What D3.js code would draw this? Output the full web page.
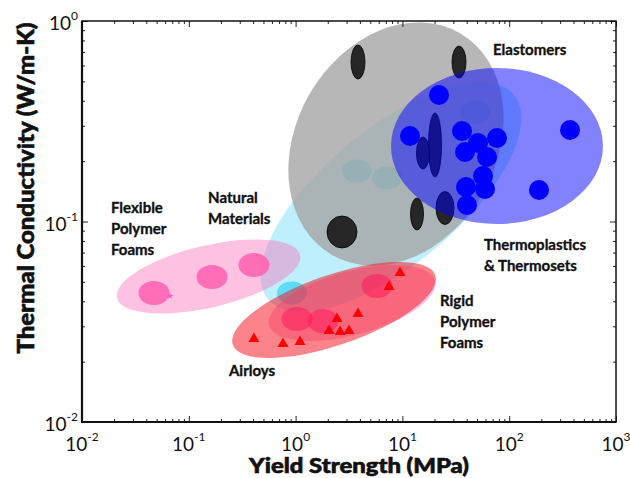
<!DOCTYPE html>
<html>
<head>
<meta charset="utf-8">
<script src="https://cdn.jsdelivr.net/npm/d3@7"></script>
<style>
  html, body { margin: 0; padding: 0; background: #fff; }
  svg { display: block; }
  text { font-family: Lato, "DejaVu Sans", sans-serif; fill: #111; }
</style>
</head>
<body>
<svg id="chart" width="630" height="478"></svg>
<script>
// ---- Property envelopes: ends of the major axis (strength MPa, conductivity W/m-K) and minor/major ratio
const regionNames = ["Natural Materials", "Elastomers", "Thermoplastics & Thermosets",
                     "Flexible Polymer Foams", "Rigid Polymer Foams", "Airloys"];
const regionStrength = [[0.5515, 110.9], [2.19, 34.6], [7.82, 755], [0.0213, 1.099], [0.5637, 20.2], [0.2582, 20.3]];
const regionConductivity = [[0.04097, 0.4285], [0.0681, 0.870], [0.2379, 0.2379], [0.04155, 0.0681], [0.03036, 0.05065], [0.02427, 0.0540]];
const regionRatio = [0.425, 0.78, 0.736, 0.33, 0.37, 0.327];

// ---- Individual materials
const naturalStrength = [0.925, 3.76, 7.17, 47.9];
const naturalConductivity = [0.0440, 0.1786, 0.1648, 0.3516];

// elastomers given as strength / conductivity ranges
const elastomerStrength = [[3.302, 4.465], [29.14, 39.4], [1.968, 3.757], [11.91, 15.76], [20.63, 30.41], [17.55, 23.23], [13.55, 17.94]];
const elastomerConductivity = [[0.5136, 0.759], [0.5196, 0.750], [0.0738, 0.1065], [0.0907, 0.1310], [0.0966, 0.1411], [0.1667, 0.3477], [0.1827, 0.2638]];

const thermoStrength = [22.01, 11.78, 36.15, 38.57, 51.05, 76.89, 61.96, 56.85, 59.35, 39.4, 40.26, 370.9, 190.1];
const thermoConductivity = [0.4274, 0.2669, 0.2827, 0.2221, 0.2463, 0.2609, 0.2098, 0.1686, 0.1452, 0.1486, 0.1209, 0.2860, 0.1436];

const flexFoamStrength = [0.0472, 0.165, 0.407];
const flexFoamConductivity = [0.0440, 0.0529, 0.0607];
const flexStarStrength = [0.0667];
const flexStarConductivity = [0.0425];

const rigidFoamStrength = [1.03, 1.806, 5.78];
const rigidFoamConductivity = [0.03264, 0.0319, 0.04769];

const airloyStrength = [0.407, 0.762, 1.10, 2.44, 3.84, 2.06, 2.61, 3.16, 7.49, 9.50];
const airloyConductivity = [0.02624, 0.02478, 0.02535, 0.03302, 0.03496, 0.02875, 0.02843, 0.02875, 0.04768, 0.05601];

// ---- Annotation text and anchor (data coordinates of first line)
const labelLines = [["Elastomers"], ["Thermoplastics", "& Thermosets"], ["Rigid", "Polymer", "Foams"],
                    ["Flexible", "Polymer", "Foams"], ["Natural", "Materials"], ["Airloys"]];
const labelStrength = [70.5, 58.1, 22.5, 0.01869, 0.1514, 0.2377];
const labelConductivity = [0.677, 0.0721, 0.0379, 0.1103, 0.1237, 0.01696];

// ---- Axis ticks
const xMajor = [1e-2, 1e-1, 1e0, 1e1, 1e2, 1e3];
const yMajor = [1e-2, 1e-1, 1e0];
const xExponents = ["-2", "-1", "0", "1", "2", "3"];
const yExponents = ["-2", "-1", "0"];

// ---- Layout
const svg = d3.select("#chart");
const L = 82, R = 616, T = 21, B = 422;
const x = d3.scaleLog().domain([1e-2, 1e3]).range([L, R]);
const y = d3.scaleLog().domain([1e-2, 1e0]).range([B, T]);

const regionStyle = {
  "Natural Materials":            { fill: "rgb(0,195,245)",   op: 0.26 },
  "Elastomers":                   { fill: "rgb(165,165,165)", op: 0.8 },
  "Thermoplastics & Thermosets":  { fill: "rgb(0,0,255)",     op: 0.49 },
  "Flexible Polymer Foams":       { fill: "rgb(250,110,185)", op: 0.42 },
  "Rigid Polymer Foams":          { fill: "rgb(250,110,185)", op: 0.42 },
  "Airloys":                      { fill: "rgb(245,20,30)",   op: 0.52 }
};

function regionGeom(i) {
  const x1 = x(regionStrength[i][0]), y1 = y(regionConductivity[i][0]);
  const x2 = x(regionStrength[i][1]), y2 = y(regionConductivity[i][1]);
  const rx = Math.hypot(x2 - x1, y2 - y1) / 2;
  return { cx: (x1 + x2) / 2, cy: (y1 + y2) / 2, rx, ry: rx * regionRatio[i],
           ang: Math.atan2(y2 - y1, x2 - x1) * 180 / Math.PI };
}

function drawRegion(name) {
  const i = regionNames.indexOf(name);
  const g = regionGeom(i);
  const s = regionStyle[name];
  svg.append("ellipse")
    .attr("transform", `translate(${g.cx},${g.cy}) rotate(${g.ang})`)
    .attr("rx", g.rx).attr("ry", g.ry)
    .attr("fill", s.fill).attr("fill-opacity", s.op);
}

function drawBlobs(xs, ys, fill, op, rx, ry) {
  svg.append("g").selectAll("ellipse").data(xs.map((v, i) => [v, ys[i]])).join("ellipse")
    .attr("cx", d => x(d[0])).attr("cy", d => y(d[1]))
    .attr("rx", rx).attr("ry", ry)
    .attr("fill", fill).attr("fill-opacity", op);
}

// layered from back to front
drawRegion("Natural Materials");
drawBlobs(naturalStrength, naturalConductivity, "rgb(0,200,240)", 0.5, 15, 11.5);
drawRegion("Elastomers");

svg.append("g").selectAll("ellipse")
  .data(elastomerStrength.map((s, i) => [s, elastomerConductivity[i]]))
  .join("ellipse")
  .attr("cx", d => (x(d[0][0]) + x(d[0][1])) / 2)
  .attr("cy", d => (y(d[1][0]) + y(d[1][1])) / 2)
  .attr("rx", d => (x(d[0][1]) - x(d[0][0])) / 2)
  .attr("ry", d => (y(d[1][0]) - y(d[1][1])) / 2)
  .attr("fill", "#262626").attr("stroke", "#000").attr("stroke-width", 0.8);

drawRegion("Thermoplastics & Thermosets");
drawBlobs(thermoStrength, thermoConductivity, "#0000ff", 1, 10, 10);

drawRegion("Flexible Polymer Foams");
drawBlobs(flexFoamStrength, flexFoamConductivity, "rgb(255,95,175)", 0.85, 15.5, 12);
svg.append("g").selectAll("path").data(flexStarStrength.map((v, i) => [v, flexStarConductivity[i]])).join("path")
  .attr("transform", d => `translate(${x(d[0])},${y(d[1])})`)
  .attr("d", d3.symbol(d3.symbolStar, 14))
  .attr("fill", "#ff55cc");

drawRegion("Rigid Polymer Foams");
drawRegion("Airloys");
drawBlobs(rigidFoamStrength, rigidFoamConductivity, "rgb(255,20,90)", 0.5, 15.5, 12);

// triangle markers
svg.append("g").selectAll("path").data(airloyStrength.map((v, i) => [v, airloyConductivity[i]])).join("path")
  .attr("transform", d => `translate(${x(d[0])},${y(d[1])})`)
  .attr("d", "M0,-5.5L5.5,4L-5.5,4Z")
  .attr("fill", "#ff0000");

// ---- Region labels
labelLines.forEach((lines, i) => {
  const t = svg.append("text")
    .attr("x", x(labelStrength[i])).attr("y", y(labelConductivity[i]))
    .attr("font-size", 15).attr("font-weight", 700)
    .attr("stroke", "#111").attr("stroke-width", 0.35);
  lines.forEach((line, j) => {
    t.append("tspan").attr("x", x(labelStrength[i])).attr("dy", j === 0 ? 0 : 21).text(line);
  });
});

// ---- Axes: inward ticks on all four sides
const minorX = x.ticks().filter(v => !xMajor.some(m => Math.abs(m - v) / m < 1e-9));
const minorY = y.ticks().filter(v => !yMajor.some(m => Math.abs(m - v) / m < 1e-9));

function tickSet(axisFn, scale, values, size, transform) {
  const g = svg.append("g").attr("transform", transform)
    .call(axisFn(scale).tickValues(values).tickSize(-size).tickFormat(""));
  g.select(".domain").remove();
  g.selectAll("line").attr("stroke", "#222").attr("stroke-width", 1);
}
tickSet(d3.axisBottom, x, minorX, 3, `translate(0,${B})`);
tickSet(d3.axisBottom, x, xMajor, 6, `translate(0,${B})`);
tickSet(d3.axisTop, x, minorX, 3, `translate(0,${T})`);
tickSet(d3.axisTop, x, xMajor, 6, `translate(0,${T})`);
tickSet(d3.axisLeft, y, minorY, 3, `translate(${L},0)`);
tickSet(d3.axisLeft, y, yMajor, 6, `translate(${L},0)`);
tickSet(d3.axisRight, y, minorY, 3, `translate(${R},0)`);
tickSet(d3.axisRight, y, yMajor, 6, `translate(${R},0)`);

// frame
svg.append("rect").attr("x", L).attr("y", T).attr("width", R - L).attr("height", B - T)
  .attr("fill", "none").attr("stroke", "#111").attr("stroke-width", 1.5);
svg.append("path").attr("d", `M${L},${T}V${B}H${R}`)
  .attr("fill", "none").attr("stroke", "#111").attr("stroke-width", 2.2);

// tick labels as powers of ten
xMajor.forEach((v, i) => {
  const t = svg.append("text").attr("x", x(v)).attr("y", B + 29)
    .attr("text-anchor", "middle").attr("font-size", 19);
  t.append("tspan").text("10");
  t.append("tspan").attr("dy", -10).attr("font-size", 12).text(xExponents[i]);
});
yMajor.forEach((v, i) => {
  const t = svg.append("text").attr("x", L - 4).attr("y", y(v) + 9)
    .attr("text-anchor", "end").attr("font-size", 19);
  t.append("tspan").text("10");
  t.append("tspan").attr("dy", -10).attr("font-size", 12).text(yExponents[i]);
});

// axis titles
svg.append("text").attr("x", 359).attr("y", 473).attr("text-anchor", "middle")
  .attr("font-size", 20).attr("font-weight", 900)
  .attr("stroke", "#111").attr("stroke-width", 0.6)
  .attr("textLength", 220).attr("lengthAdjust", "spacingAndGlyphs")
  .text("Yield Strength (MPa)");
svg.append("text").attr("transform", "translate(34,188) rotate(-90)").attr("text-anchor", "middle")
  .attr("font-size", 22).attr("font-weight", 900)
  .attr("stroke", "#111").attr("stroke-width", 0.6)
  .attr("textLength", 331).attr("lengthAdjust", "spacingAndGlyphs")
  .text("Thermal Conductivity (W/m-K)");
</script>
</body>
</html>
